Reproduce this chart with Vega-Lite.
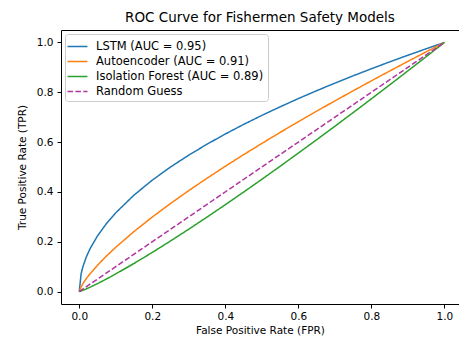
{
  "$schema": "https://vega.github.io/schema/vega-lite/v6.json",
  "width": 398,
  "height": 274,
  "autosize": "none",
  "padding": {"left": 61, "top": 30, "right": 0, "bottom": 34},
  "background": "white",
  "config": {
    "font": "DejaVu Sans",
    "view": {"stroke": "#000000", "strokeWidth": 1},
    "axis": {"grid": false, "domain": false, "tickColor": "#000", "tickSize": 4, "labelColor": "#000", "labelFontSize": 10.5, "titleFontSize": 10.5, "titleFontWeight": "normal", "titleColor": "#000", "labelFont": "DejaVu Sans", "titleFont": "DejaVu Sans"}
  },
  "title": {"text": "ROC Curve for Fishermen Safety Models", "fontSize": 13.5, "fontWeight": "normal", "font": "DejaVu Sans", "color": "#000", "anchor": "middle", "offset": 6},
  "data": {"values": [
    {"model": "LSTM (AUC = 0.95)", "fpr": 0, "tpr": 0},
    {"model": "LSTM (AUC = 0.95)", "fpr": 0.005, "tpr": 0.0707},
    {"model": "LSTM (AUC = 0.95)", "fpr": 0.01, "tpr": 0.1},
    {"model": "LSTM (AUC = 0.95)", "fpr": 0.02, "tpr": 0.1414},
    {"model": "LSTM (AUC = 0.95)", "fpr": 0.03, "tpr": 0.1732},
    {"model": "LSTM (AUC = 0.95)", "fpr": 0.05, "tpr": 0.2236},
    {"model": "LSTM (AUC = 0.95)", "fpr": 0.075, "tpr": 0.2739},
    {"model": "LSTM (AUC = 0.95)", "fpr": 0.1, "tpr": 0.3162},
    {"model": "LSTM (AUC = 0.95)", "fpr": 0.15, "tpr": 0.3873},
    {"model": "LSTM (AUC = 0.95)", "fpr": 0.2, "tpr": 0.4472},
    {"model": "LSTM (AUC = 0.95)", "fpr": 0.25, "tpr": 0.5},
    {"model": "LSTM (AUC = 0.95)", "fpr": 0.3, "tpr": 0.5477},
    {"model": "LSTM (AUC = 0.95)", "fpr": 0.35, "tpr": 0.5916},
    {"model": "LSTM (AUC = 0.95)", "fpr": 0.4, "tpr": 0.6325},
    {"model": "LSTM (AUC = 0.95)", "fpr": 0.45, "tpr": 0.6708},
    {"model": "LSTM (AUC = 0.95)", "fpr": 0.5, "tpr": 0.7071},
    {"model": "LSTM (AUC = 0.95)", "fpr": 0.55, "tpr": 0.7416},
    {"model": "LSTM (AUC = 0.95)", "fpr": 0.6, "tpr": 0.7746},
    {"model": "LSTM (AUC = 0.95)", "fpr": 0.65, "tpr": 0.8062},
    {"model": "LSTM (AUC = 0.95)", "fpr": 0.7, "tpr": 0.8367},
    {"model": "LSTM (AUC = 0.95)", "fpr": 0.75, "tpr": 0.866},
    {"model": "LSTM (AUC = 0.95)", "fpr": 0.8, "tpr": 0.8944},
    {"model": "LSTM (AUC = 0.95)", "fpr": 0.85, "tpr": 0.922},
    {"model": "LSTM (AUC = 0.95)", "fpr": 0.9, "tpr": 0.9487},
    {"model": "LSTM (AUC = 0.95)", "fpr": 0.95, "tpr": 0.9747},
    {"model": "LSTM (AUC = 0.95)", "fpr": 1, "tpr": 1},
    {"model": "Autoencoder (AUC = 0.91)", "fpr": 0, "tpr": 0},
    {"model": "Autoencoder (AUC = 0.91)", "fpr": 0.005, "tpr": 0.0188},
    {"model": "Autoencoder (AUC = 0.91)", "fpr": 0.01, "tpr": 0.0316},
    {"model": "Autoencoder (AUC = 0.91)", "fpr": 0.02, "tpr": 0.0532},
    {"model": "Autoencoder (AUC = 0.91)", "fpr": 0.03, "tpr": 0.0721},
    {"model": "Autoencoder (AUC = 0.91)", "fpr": 0.05, "tpr": 0.1057},
    {"model": "Autoencoder (AUC = 0.91)", "fpr": 0.075, "tpr": 0.1433},
    {"model": "Autoencoder (AUC = 0.91)", "fpr": 0.1, "tpr": 0.1778},
    {"model": "Autoencoder (AUC = 0.91)", "fpr": 0.15, "tpr": 0.241},
    {"model": "Autoencoder (AUC = 0.91)", "fpr": 0.2, "tpr": 0.2991},
    {"model": "Autoencoder (AUC = 0.91)", "fpr": 0.25, "tpr": 0.3536},
    {"model": "Autoencoder (AUC = 0.91)", "fpr": 0.3, "tpr": 0.4054},
    {"model": "Autoencoder (AUC = 0.91)", "fpr": 0.35, "tpr": 0.455},
    {"model": "Autoencoder (AUC = 0.91)", "fpr": 0.4, "tpr": 0.503},
    {"model": "Autoencoder (AUC = 0.91)", "fpr": 0.45, "tpr": 0.5494},
    {"model": "Autoencoder (AUC = 0.91)", "fpr": 0.5, "tpr": 0.5946},
    {"model": "Autoencoder (AUC = 0.91)", "fpr": 0.55, "tpr": 0.6387},
    {"model": "Autoencoder (AUC = 0.91)", "fpr": 0.6, "tpr": 0.6817},
    {"model": "Autoencoder (AUC = 0.91)", "fpr": 0.65, "tpr": 0.724},
    {"model": "Autoencoder (AUC = 0.91)", "fpr": 0.7, "tpr": 0.7653},
    {"model": "Autoencoder (AUC = 0.91)", "fpr": 0.75, "tpr": 0.8059},
    {"model": "Autoencoder (AUC = 0.91)", "fpr": 0.8, "tpr": 0.8459},
    {"model": "Autoencoder (AUC = 0.91)", "fpr": 0.85, "tpr": 0.8852},
    {"model": "Autoencoder (AUC = 0.91)", "fpr": 0.9, "tpr": 0.924},
    {"model": "Autoencoder (AUC = 0.91)", "fpr": 0.95, "tpr": 0.9623},
    {"model": "Autoencoder (AUC = 0.91)", "fpr": 1, "tpr": 1},
    {"model": "Isolation Forest (AUC = 0.89)", "fpr": 0, "tpr": 0},
    {"model": "Isolation Forest (AUC = 0.89)", "fpr": 0.005, "tpr": 0.0023},
    {"model": "Isolation Forest (AUC = 0.89)", "fpr": 0.01, "tpr": 0.005},
    {"model": "Isolation Forest (AUC = 0.89)", "fpr": 0.02, "tpr": 0.0111},
    {"model": "Isolation Forest (AUC = 0.89)", "fpr": 0.03, "tpr": 0.0177},
    {"model": "Isolation Forest (AUC = 0.89)", "fpr": 0.05, "tpr": 0.0319},
    {"model": "Isolation Forest (AUC = 0.89)", "fpr": 0.075, "tpr": 0.0508},
    {"model": "Isolation Forest (AUC = 0.89)", "fpr": 0.1, "tpr": 0.0708},
    {"model": "Isolation Forest (AUC = 0.89)", "fpr": 0.15, "tpr": 0.1128},
    {"model": "Isolation Forest (AUC = 0.89)", "fpr": 0.2, "tpr": 0.1571},
    {"model": "Isolation Forest (AUC = 0.89)", "fpr": 0.25, "tpr": 0.2031},
    {"model": "Isolation Forest (AUC = 0.89)", "fpr": 0.3, "tpr": 0.2504},
    {"model": "Isolation Forest (AUC = 0.89)", "fpr": 0.35, "tpr": 0.299},
    {"model": "Isolation Forest (AUC = 0.89)", "fpr": 0.4, "tpr": 0.3486},
    {"model": "Isolation Forest (AUC = 0.89)", "fpr": 0.45, "tpr": 0.3992},
    {"model": "Isolation Forest (AUC = 0.89)", "fpr": 0.5, "tpr": 0.4506},
    {"model": "Isolation Forest (AUC = 0.89)", "fpr": 0.55, "tpr": 0.5028},
    {"model": "Isolation Forest (AUC = 0.89)", "fpr": 0.6, "tpr": 0.5559},
    {"model": "Isolation Forest (AUC = 0.89)", "fpr": 0.65, "tpr": 0.6093},
    {"model": "Isolation Forest (AUC = 0.89)", "fpr": 0.7, "tpr": 0.6635},
    {"model": "Isolation Forest (AUC = 0.89)", "fpr": 0.75, "tpr": 0.7183},
    {"model": "Isolation Forest (AUC = 0.89)", "fpr": 0.8, "tpr": 0.7737},
    {"model": "Isolation Forest (AUC = 0.89)", "fpr": 0.85, "tpr": 0.8295},
    {"model": "Isolation Forest (AUC = 0.89)", "fpr": 0.9, "tpr": 0.8859},
    {"model": "Isolation Forest (AUC = 0.89)", "fpr": 0.95, "tpr": 0.9427},
    {"model": "Isolation Forest (AUC = 0.89)", "fpr": 1, "tpr": 1},
    {"model": "Random Guess", "fpr": 0, "tpr": 0},
    {"model": "Random Guess", "fpr": 1, "tpr": 1}
  ]},
  "mark": {"type": "line", "strokeWidth": 1.5, "clip": true},
  "encoding": {
    "x": {"field": "fpr", "type": "quantitative", "title": "False Positive Rate (FPR)",
      "scale": {"domain": [-0.05, 1.04], "nice": false, "zero": false},
      "axis": {"values": [0, 0.2, 0.4, 0.6, 0.8, 1.0], "format": ".1f", "labelPadding": 3, "titlePadding": 4}},
    "y": {"field": "tpr", "type": "quantitative", "title": "True Positive Rate (TPR)",
      "scale": {"domain": [-0.05, 1.05], "nice": false, "zero": false},
      "axis": {"values": [0, 0.2, 0.4, 0.6, 0.8, 1.0], "format": ".1f", "labelPadding": 4, "titlePadding": 9}},
    "color": {"field": "model", "type": "nominal", "title": null,
      "scale": {"domain": ["LSTM (AUC = 0.95)", "Autoencoder (AUC = 0.91)", "Isolation Forest (AUC = 0.89)", "Random Guess"],
                "range": ["#1f77b4", "#ff7f0e", "#2ca02c", "#b0359f"]},
      "legend": {"orient": "top-left", "offset": 4, "symbolType": "M-1.33,0H1.33", "symbolSize": 225, "symbolStrokeWidth": 1.5,
        "labelFontSize": 11.5, "labelColor": "#000", "labelFont": "DejaVu Sans", "labelOffset": 10, "labelLimit": 400, "rowPadding": 1,
        "padding": 4, "fillColor": "rgba(255,255,255,0.8)", "strokeColor": "#cccccc", "cornerRadius": 3}},
    "strokeDash": {"field": "model", "type": "nominal", "title": null,
      "scale": {"domain": ["LSTM (AUC = 0.95)", "Autoencoder (AUC = 0.91)", "Isolation Forest (AUC = 0.89)", "Random Guess"],
                "range": [[1, 0], [1, 0], [1, 0], [5.5, 2.4]]}},
    "order": {"field": "fpr", "type": "quantitative"}
  }
}
